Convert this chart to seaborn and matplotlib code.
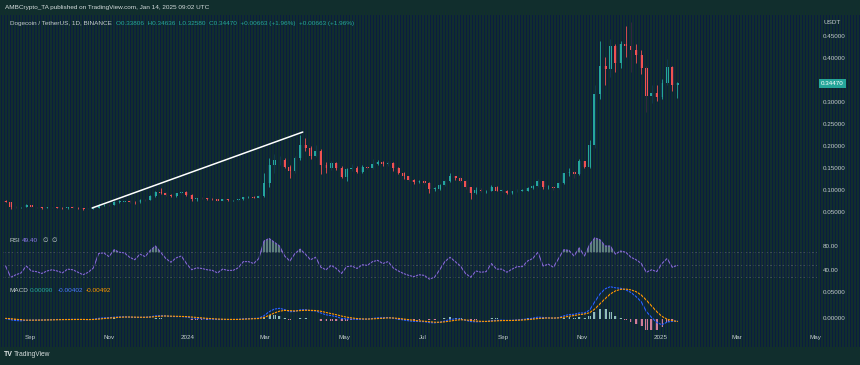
import numpy as np
import pandas as pd
import matplotlib
matplotlib.use('Agg')
import matplotlib.pyplot as plt
import seaborn as sns

dates = pd.date_range('2023-08-13', '2025-01-14', freq='4D')
first_open = 0.0770
closes = [0.0755, 0.0640, 0.0625, 0.0630, 0.0680, 0.0635, 0.0630, 0.0615, 0.0625, 0.0630,
          0.0620, 0.0605, 0.0625, 0.0620, 0.0605, 0.0585, 0.0595, 0.0615, 0.0680, 0.0690,
          0.0680, 0.0760, 0.0760, 0.0770, 0.0755, 0.0745, 0.0800, 0.0790, 0.0880, 0.0980,
          0.0960, 0.0920, 0.0880, 0.0945, 0.0985, 0.0900, 0.0820, 0.0840, 0.0830, 0.0820,
          0.0810, 0.0780, 0.0810, 0.0790, 0.0790, 0.0810, 0.0860, 0.0860, 0.0850, 0.0880,
          0.1180, 0.1600, 0.1700, 0.1700, 0.1550, 0.1450, 0.1750, 0.2050, 0.1980, 0.1800,
          0.1900, 0.1600, 0.1520, 0.1630, 0.1520, 0.1320, 0.1490, 0.1520, 0.1440, 0.1540,
          0.1530, 0.1620, 0.1660, 0.1610, 0.1640, 0.1520, 0.1420, 0.1330, 0.1260, 0.1210,
          0.1220, 0.1190, 0.1050, 0.1050, 0.1130, 0.1230, 0.1330, 0.1290, 0.1230, 0.1080,
          0.0960, 0.1020, 0.1000, 0.1000, 0.1100, 0.1010, 0.1010, 0.0960, 0.0990, 0.1010,
          0.1010, 0.1070, 0.1110, 0.1220, 0.1080, 0.1100, 0.1060, 0.1180, 0.1400, 0.1440,
          0.1380, 0.1680, 0.1550, 0.2050, 0.3200, 0.3850, 0.3780, 0.4300, 0.3900, 0.4350,
          0.4300, 0.4200, 0.4100, 0.3800, 0.3150, 0.3220, 0.3130, 0.3450, 0.3820, 0.3400,
          0.3447]
highs = [0.0790, 0.0760, 0.0650, 0.0645, 0.0700, 0.0690, 0.0645, 0.0635, 0.0635, 0.0645,
         0.0638, 0.0625, 0.0638, 0.0650, 0.0628, 0.0610, 0.0605, 0.0625, 0.0700, 0.0710,
         0.0700, 0.0775, 0.0790, 0.0800, 0.0785, 0.0775, 0.0815, 0.0820, 0.0900, 0.1010,
         0.1060, 0.0985, 0.0935, 0.0960, 0.1005, 0.0990, 0.0935, 0.0850, 0.0870, 0.0845,
         0.0830, 0.0815, 0.0825, 0.0820, 0.0805, 0.0825, 0.0870, 0.0890, 0.0875, 0.0900,
         0.1420, 0.1750, 0.1850, 0.1800, 0.1760, 0.1600, 0.1800, 0.2280, 0.2200, 0.2020,
         0.2050, 0.1950, 0.1650, 0.1680, 0.1670, 0.1560, 0.1520, 0.1620, 0.1560, 0.1580,
         0.1570, 0.1720, 0.1700, 0.1680, 0.1690, 0.1650, 0.1540, 0.1430, 0.1350, 0.1280,
         0.1260, 0.1260, 0.1200, 0.1090, 0.1160, 0.1260, 0.1400, 0.1350, 0.1310, 0.1240,
         0.1090, 0.1100, 0.1060, 0.1030, 0.1130, 0.1120, 0.1040, 0.1020, 0.1010, 0.1040,
         0.1040, 0.1100, 0.1140, 0.1280, 0.1230, 0.1130, 0.1120, 0.1210, 0.1420, 0.1520,
         0.1460, 0.1730, 0.1690, 0.2150, 0.3400, 0.4400, 0.4050, 0.4450, 0.4350, 0.4400,
         0.4750, 0.4840, 0.4350, 0.4200, 0.3850, 0.3400, 0.3400, 0.3550, 0.4000, 0.3850,
         0.3480]
lows = [0.0740, 0.0590, 0.0615, 0.0615, 0.0625, 0.0625, 0.0620, 0.0595, 0.0608, 0.0618,
        0.0612, 0.0598, 0.0600, 0.0612, 0.0595, 0.0575, 0.0580, 0.0590, 0.0610, 0.0668,
        0.0660, 0.0672, 0.0735, 0.0740, 0.0730, 0.0715, 0.0738, 0.0775, 0.0785, 0.0870,
        0.0930, 0.0895, 0.0860, 0.0870, 0.0935, 0.0885, 0.0770, 0.0765, 0.0810, 0.0800,
        0.0795, 0.0765, 0.0775, 0.0780, 0.0772, 0.0783, 0.0800, 0.0845, 0.0830, 0.0840,
        0.0870, 0.1100, 0.1400, 0.1600, 0.1520, 0.1300, 0.1420, 0.1700, 0.1900, 0.1730,
        0.1780, 0.1380, 0.1420, 0.1480, 0.1480, 0.1290, 0.1230, 0.1460, 0.1400, 0.1410,
        0.1490, 0.1500, 0.1580, 0.1570, 0.1570, 0.1450, 0.1380, 0.1280, 0.1220, 0.1170,
        0.1190, 0.1160, 0.0960, 0.1000, 0.1030, 0.1110, 0.1210, 0.1250, 0.1200, 0.1050,
        0.0810, 0.0940, 0.0970, 0.0960, 0.0990, 0.0990, 0.0985, 0.0925, 0.0930, 0.0975,
        0.0990, 0.1000, 0.1050, 0.1100, 0.1040, 0.1050, 0.1030, 0.1050, 0.1160, 0.1350,
        0.1300, 0.1360, 0.1520, 0.1530, 0.1980, 0.3100, 0.3400, 0.3600, 0.3700, 0.3800,
        0.4050, 0.3700, 0.3900, 0.3650, 0.2800, 0.3000, 0.3050, 0.3080, 0.3400, 0.3280,
        0.3110]

rsi = [48, 30, 34, 37, 48, 40, 39, 36, 40, 42, 40, 37, 43, 42, 38, 34, 38, 45, 68, 69,
       63, 74, 70, 69, 62, 58, 67, 63, 73, 80, 70, 60, 54, 61, 64, 52, 42, 45, 44, 42,
       41, 37, 43, 41, 41, 45, 55, 55, 52, 60, 88, 92, 86, 80, 64, 56, 68, 75, 67, 58,
       62, 46, 42, 49, 44, 36, 47, 48, 44, 50, 49, 55, 57, 52, 55, 45, 40, 36, 33, 31,
       34, 33, 27, 30, 42, 55, 62, 55, 48, 36, 30, 40, 38, 39, 52, 43, 43, 38, 43, 47,
       47, 56, 60, 70, 48, 51, 46, 60, 74, 73, 64, 77, 64, 82, 93, 90, 80, 80, 67, 72,
       70, 62, 58, 52, 38, 42, 39, 52, 60, 46, 49]

macd = [0.0010, -0.0015, -0.0030, -0.0035, -0.0025, -0.0022, -0.0020, -0.0020, -0.0016, -0.0012,
        -0.0010, -0.0011, -0.0008, -0.0006, -0.0008, -0.0012, -0.0012, -0.0006, 0.0012, 0.0022,
        0.0025, 0.0034, 0.0040, 0.0041, 0.0036, 0.0030, 0.0032, 0.0033, 0.0042, 0.0060,
        0.0064, 0.0058, 0.0048, 0.0046, 0.0048, 0.0038, 0.0020, 0.0012, 0.0006, 0.0000,
        -0.0004, -0.0010, -0.0010, -0.0011, -0.0010, -0.0007, 0.0002, 0.0008, 0.0010, 0.0016,
        0.0062, 0.0140, 0.0190, 0.0205, 0.0180, 0.0140, 0.0145, 0.0175, 0.0180, 0.0160,
        0.0155, 0.0115, 0.0080, 0.0065, 0.0045, 0.0010, 0.0002, 0.0000, -0.0008, -0.0005,
        -0.0002, 0.0010, 0.0022, 0.0025, 0.0028, 0.0015, -0.0002, -0.0020, -0.0035, -0.0046,
        -0.0050, -0.0052, -0.0070, -0.0075, -0.0062, -0.0038, -0.0010, 0.0002, 0.0000, -0.0025,
        -0.0050, -0.0055, -0.0052, -0.0048, -0.0030, -0.0025, -0.0022, -0.0028, -0.0026, -0.0018,
        -0.0012, 0.0000, 0.0015, 0.0035, 0.0028, 0.0022, 0.0014, 0.0025, 0.0060, 0.0085,
        0.0090, 0.0115, 0.0115, 0.0170, 0.0330, 0.0480, 0.0580, 0.0620, 0.0600, 0.0590,
        0.0560, 0.0510, 0.0430, 0.0330, 0.0140, 0.0030, -0.0070, -0.0110, -0.0060, -0.0045,
        -0.00402]
signal = [0.0012, 0.0005, -0.0005, -0.0015, -0.0022, -0.0023, -0.0022, -0.0021, -0.0020, -0.0017,
          -0.0014, -0.0012, -0.0011, -0.0009, -0.0008, -0.0009, -0.0011, -0.0010, -0.0003, 0.0008,
          0.0016, 0.0024, 0.0032, 0.0037, 0.0038, 0.0035, 0.0033, 0.0033, 0.0036, 0.0045,
          0.0054, 0.0057, 0.0054, 0.0051, 0.0049, 0.0046, 0.0037, 0.0028, 0.0020, 0.0012,
          0.0005, -0.0001, -0.0005, -0.0008, -0.0009, -0.0009, -0.0005, -0.0001, 0.0004, 0.0009,
          0.0028, 0.0070, 0.0115, 0.0150, 0.0165, 0.0160, 0.0155, 0.0160, 0.0167, 0.0166,
          0.0162, 0.0148, 0.0125, 0.0103, 0.0082, 0.0056, 0.0035, 0.0020, 0.0008, 0.0001,
          -0.0002, 0.0002, 0.0009, 0.0015, 0.0020, 0.0019, 0.0011, 0.0000, -0.0013, -0.0026,
          -0.0036, -0.0043, -0.0053, -0.0062, -0.0063, -0.0055, -0.0040, -0.0025, -0.0015, -0.0018,
          -0.0030, -0.0040, -0.0045, -0.0047, -0.0042, -0.0036, -0.0031, -0.0030, -0.0029, -0.0025,
          -0.0020, -0.0013, -0.0004, 0.0008, 0.0016, 0.0019, 0.0018, 0.0020, 0.0034, 0.0052,
          0.0066, 0.0083, 0.0095, 0.0120, 0.0190, 0.0290, 0.0390, 0.0480, 0.0540, 0.0570,
          0.0575, 0.0560, 0.0525, 0.0460, 0.0360, 0.0250, 0.0140, 0.0050, -0.0005, -0.0030,
          -0.00492]

# white trendline drawn on the chart
trend_dates = ['2023-10-19', '2024-03-30']
trend_prices = [0.0614, 0.234]

last_price = 0.34470
price_ticks = [0.05, 0.10, 0.15, 0.20, 0.25, 0.30, 0.40, 0.45]
rsi_ticks = [40, 80]
macd_ticks = [0.0, 0.05]
month_ticks = ['2023-09-01', '2023-11-01', '2024-01-01', '2024-03-01', '2024-05-01', '2024-07-01',
               '2024-09-01', '2024-11-01', '2025-01-01', '2025-03-01', '2025-05-01']
month_labels = ['Sep', 'Nov', '2024', 'Mar', 'May', 'Jul', 'Sep', 'Nov', '2025', 'Mar', 'May']

BG = '#112e2d'
STRIPE = '#0a1944'
UP = '#26a69a'
DOWN = '#ef5350'
TXT = '#c3cccc'

sns.set_theme(style='dark')
plt.rcParams['font.family'] = ['Liberation Sans', 'DejaVu Sans']

W, H = 860, 365
fig = plt.figure(figsize=(8.6, 3.65), dpi=100, facecolor=BG)


def box(x0, y0, x1, y1):
    return [x0 / W, 1 - y1 / H, (x1 - x0) / W, (y1 - y0) / H]


ax_p = fig.add_axes(box(3, 15, 817, 232))
ax_r = fig.add_axes(box(3, 233, 817, 282), sharex=ax_p)
ax_m = fig.add_axes(box(3, 283, 817, 330), sharex=ax_p)

for ax in (ax_p, ax_r, ax_m):
    ax.set_facecolor(BG)
    for s in ax.spines.values():
        s.set_visible(False)
    ax.grid(False)
    ax.tick_params(length=0, labelleft=False, labelbottom=False)

# candles
c = np.array(closes)
o = np.r_[first_open, c[:-1]]
cols = np.where(c >= o, UP, DOWN)
ax_p.vlines(dates, lows, highs, colors=cols, lw=0.6)
ax_p.bar(dates, np.maximum(np.abs(c - o), 0.0009), bottom=np.minimum(o, c),
         width=2.2, color=cols, lw=0)
ax_p.set_ylim(0.0068, 0.5)
ax_p.set_yticks(price_ticks)
ax_p.grid(axis='y', color='#1d3d3c', lw=0.5)

# RSI
r = np.array(rsi, dtype=float)
ax_r.axhspan(30, 70, color='#7e57c2', alpha=0.04, lw=0)
for lvl in (70, 50, 30):
    ax_r.axhline(lvl, color='#787b86', lw=0.5, ls=(0, (3, 3)), alpha=0.6)
ax_r.fill_between(dates, r, 70, where=r > 70, interpolate=True, color='#9ec4b8', alpha=0.55, lw=0)
sns.lineplot(x=dates, y=r, ax=ax_r, color='#8466d0', lw=0.8)
ax_r.set_ylim(22.4, 100.8)

# MACD
m = np.array(macd)
sg = np.array(signal)
hist = m - sg
ax_m.bar(dates, hist, width=2.2, color=np.where(hist >= 0, '#a8d8d0', '#f28fa8'), lw=0, alpha=0.85)
sns.lineplot(x=dates, y=m, ax=ax_m, color='#2962ff', lw=0.8)
sns.lineplot(x=dates, y=sg, ax=ax_m, color='#ff9800', lw=0.8)
ax_m.set_ylim(-0.0212, 0.0692)

ax_p.set_xlim(pd.Timestamp('2023-08-11'), pd.Timestamp('2025-05-02'))
for ax in (ax_p, ax_r, ax_m):
    ax.set_xlabel('')
    ax.set_ylabel('')
    ax.set_xticks([])
    ax.set_yticks([])


def ftext(x, y, s, **kw):
    kw.setdefault('fontsize', 4.6)
    kw.setdefault('color', TXT)
    fig.text(x / W, 1 - y / H, s, va='center', ha='left', zorder=12, **kw)


ftext(5, 8, 'AMBCrypto_TA published on TradingView.com, Jan 14, 2025 09:02 UTC', color='#d5dcdc')
ftext(10, 23, 'Dogecoin / TetherUS, 1D, BINANCE')
ftext(116, 23, 'O0.33806  H0.34636  L0.32580  C0.34470  +0.00663 (+1.96%)  +0.00663 (+1.96%)', color=UP)
ftext(823, 23, 'USDT')
ftext(10, 240, 'RSI')
ftext(22, 240, '49.40', color='#8c7ae6')
ftext(43, 240, '\u2205  \u2205')
ftext(10, 291, 'MACD')
ftext(30, 291, '0.00090', color=UP)
ftext(58, 291, '-0.00402', color='#4a7bff')
ftext(86, 291, '-0.00492', color='#ff9800')
ftext(4, 355, 'TV', fontweight='bold', fontsize=5, color='#e0e6e6')
ftext(14, 355, 'TradingView', fontsize=4.8, color='#d5dcdc')

# screen-capture stripes laid over the chart
ov = fig.add_axes(box(0, 15, W, 347), zorder=10)
ov.set_axis_off()
ov.set_xlim(0, W)
ov.set_ylim(0, 1)
ov.vlines(np.arange(0.5, W, 3), 0, 1, color=STRIPE, lw=0.72, alpha=0.8, antialiased=False)

# trendline, last-price tag and axis labels sit above the stripes
top = fig.add_axes(box(3, 15, 817, 232), sharex=ax_p, zorder=11)
top.set_facecolor('none')
top.set_axis_off()
top.set_ylim(ax_p.get_ylim())
top.plot(pd.to_datetime(trend_dates), trend_prices, color='white', lw=1.1)
top.text(1.005, last_price, f'{last_price:.5f}', transform=top.get_yaxis_transform(),
         fontsize=4.5, color='white', va='center', ha='left',
         bbox=dict(boxstyle='square,pad=0.3', fc=UP, ec='none'))

for ax, ticks, fmt in ((ax_p, price_ticks, '{:.5f}'), (ax_r, rsi_ticks, '{:.2f}'),
                       (ax_m, macd_ticks, '{:.5f}')):
    for tk in ticks:
        top.text(1.0075, tk, fmt.format(tk), transform=ax.get_yaxis_transform(),
                 fontsize=4.5, color=TXT, va='center', ha='left', clip_on=False)
for tk, lab in zip(pd.to_datetime(month_ticks), month_labels):
    top.text(tk, -0.17, lab, transform=ax_m.get_xaxis_transform(),
             fontsize=4.5, color=TXT, va='center', ha='center', clip_on=False)

fig.savefig('out.png', dpi=100, facecolor=BG)
